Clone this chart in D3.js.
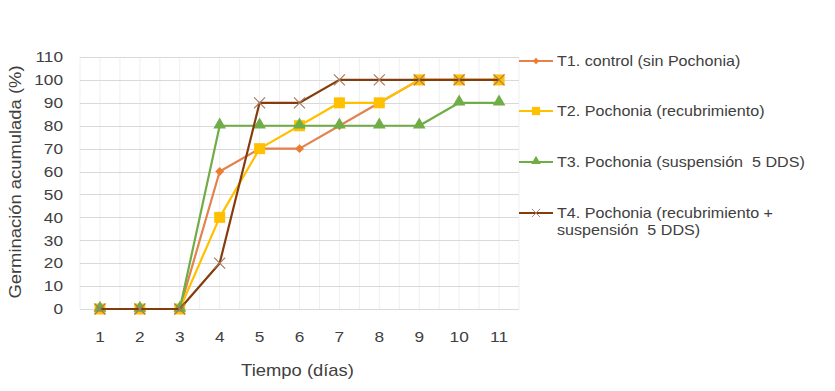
<!DOCTYPE html>
<html>
<head>
<meta charset="utf-8">
<script src="https://cdn.jsdelivr.net/npm/d3@7"></script>
<style>
  body { margin: 0; background: #fff; }
  text { font-family: "Liberation Sans", Arial, sans-serif; fill: #404040; white-space: pre; }
</style>
</head>
<body>
<div id="chart"></div>
<script>
// data
let days = [1, 2, 3, 4, 5, 6, 7, 8, 9, 10, 11];
let yTicks = [0, 10, 20, 30, 40, 50, 60, 70, 80, 90, 100, 110];
let seriesNames = [
  "T1. control (sin Pochonia)",
  "T2. Pochonia (recubrimiento)",
  "T3. Pochonia (suspensión  5 DDS)",
  "T4. Pochonia (recubrimiento +|suspensión  5 DDS)"
];
let t1 = [0, 0, 0, 60, 70, 70, 80, 90, 100, 100, 100];
let t2 = [0, 0, 0, 40, 70, 80, 90, 90, 100, 100, 100];
let t3 = [0, 0, 0, 80, 80, 80, 80, 80, 80, 90, 90];
let t4 = [0, 0, 0, 20, 90, 90, 100, 100, 100, 100, 100];

let styles = [
  { line: '#E2834F', fill: '#ED7D31', marker: 'diamond' },
  { line: '#FFC000', fill: '#FFC000', marker: 'square' },
  { line: '#70AD47', fill: '#70AD47', marker: 'triangle' },
  { line: '#843C0C', fill: '#A87A5E', marker: 'x' }
];
let allSeries = [t1, t2, t3, t4];

// layout
let config = { width: 835, height: 391 };
let plot = { x: 80, y: 57, width: 439, height: 252 };
let stretch = 1.15; // the source text is a little wide

let svg = d3.select('#chart').append('svg')
  .attr('width', config.width)
  .attr('height', config.height);

let x = d3.scaleBand().domain(days).range([plot.x, plot.x + plot.width]);
let y = d3.scaleLinear().domain([0, 110]).range([plot.y + plot.height, plot.y]);
let cx = d => x(d) + x.bandwidth() / 2;

// places a text at (px,py) stretched horizontally
function wideText(parent, px, py, str, size, anchor) {
  return parent.append('text')
    .attr('transform', 'translate(' + px + ',' + py + ') scale(' + stretch + ',1)')
    .attr('text-anchor', anchor || 'start')
    .attr('font-size', size)
    .text(str);
}

// faint vertical grid (every half band)
let grid = svg.append('g');
let halfSteps = d3.range(0, days.length * 2 + 1);
grid.selectAll('line.v')
  .data(halfSteps)
  .enter().append('line')
  .attr('x1', i => plot.x + i * x.bandwidth() / 2)
  .attr('x2', i => plot.x + i * x.bandwidth() / 2)
  .attr('y1', plot.y)
  .attr('y2', plot.y + plot.height)
  .attr('stroke', '#efefef')
  .attr('stroke-width', 1);

// horizontal grid
grid.selectAll('line.h')
  .data(yTicks)
  .enter().append('line')
  .attr('x1', plot.x)
  .attr('x2', plot.x + plot.width)
  .attr('y1', d => Math.round(y(d)) + 0.5)
  .attr('y2', d => Math.round(y(d)) + 0.5)
  .attr('stroke', '#d9d9d9')
  .attr('stroke-width', 1);

// y axis labels
let yAxis = d3.axisLeft(y).tickValues(yTicks).tickSize(0).tickPadding(0);
let yg = svg.append('g').attr('transform', 'translate(' + (plot.x - 17) + ',0)').call(yAxis);
yg.select('.domain').remove();
yg.selectAll('text')
  .attr('x', 0)
  .attr('transform', 'scale(' + stretch + ',1)')
  .attr('font-size', 15)
  .attr('fill', '#404040')
  .attr('font-family', '"Liberation Sans", Arial, sans-serif');

// x axis labels
let xAxis = d3.axisBottom(x).tickSize(0).tickPadding(22);
let xg = svg.append('g').attr('transform', 'translate(0,' + (plot.y + plot.height) + ')').call(xAxis);
xg.select('.domain').remove();
xg.selectAll('text')
  .attr('transform', 'scale(' + stretch + ',1)')
  .attr('font-size', 15)
  .attr('fill', '#404040')
  .attr('font-family', '"Liberation Sans", Arial, sans-serif');

// axis titles
wideText(svg, plot.x + plot.width / 2 - 2, 376, 'Tiempo (días)', 16, 'middle');

svg.append('text')
  .attr('transform', 'translate(21,' + 182 + ') rotate(-90) scale(' + stretch + ',1)')
  .attr('text-anchor', 'middle')
  .attr('font-size', 16)
  .text('Germinación acumulada (%)');

// markers
function drawMarker(g, type, px, py, st) {
  if (type === 'diamond') {
    g.append('path')
      .attr('d', d3.symbol().type(d3.symbolDiamond2).size(50)())
      .attr('transform', 'translate(' + px + ',' + py + ')')
      .attr('fill', st.fill);
  } else if (type === 'square') {
    g.append('rect')
      .attr('x', px - 5.5).attr('y', py - 5.5)
      .attr('width', 11).attr('height', 11)
      .attr('fill', st.fill);
  } else if (type === 'triangle') {
    g.append('path')
      .attr('d', d3.symbol().type(d3.symbolTriangle).size(70)())
      .attr('transform', 'translate(' + px + ',' + (py - 1) + ')')
      .attr('fill', st.fill);
  } else {
    g.append('path')
      .attr('d', 'M-5.5,-5.5L5.5,5.5M-5.5,5.5L5.5,-5.5')
      .attr('transform', 'translate(' + px + ',' + py + ')')
      .attr('stroke', st.fill)
      .attr('stroke-width', 1.2)
      .attr('fill', 'none');
  }
}

let line = d3.line().x((d, i) => cx(days[i])).y(d => y(d));

allSeries.forEach(function(vals, k) {
  let st = styles[k];
  let g = svg.append('g');
  g.append('path')
    .datum(vals)
    .attr('d', line)
    .attr('fill', 'none')
    .attr('stroke', st.line)
    .attr('stroke-width', 2.2)
    .attr('stroke-linejoin', 'round');
  vals.forEach(function(v, i) {
    drawMarker(g, st.marker, cx(days[i]), y(v), st);
  });
});

// legend
let legendY = [61, 111, 162, 213];
let legend = svg.append('g');
seriesNames.forEach(function(name, k) {
  let st = styles[k];
  let ly = legendY[k];
  let g = legend.append('g');
  g.append('line')
    .attr('x1', 519).attr('x2', 553)
    .attr('y1', ly).attr('y2', ly)
    .attr('stroke', st.line)
    .attr('stroke-width', 2);
  let m = g.append('g').attr('transform', 'translate(536,' + ly + ') scale(0.75) translate(-536,' + (-ly) + ')');
  drawMarker(m, st.marker, 536, ly, st);
  let parts = name.split('|');
  parts.forEach(function(p, j) {
    wideText(g, 557, ly + 5 + j * 17, p, 14);
  });
});
</script>
</body>
</html>
